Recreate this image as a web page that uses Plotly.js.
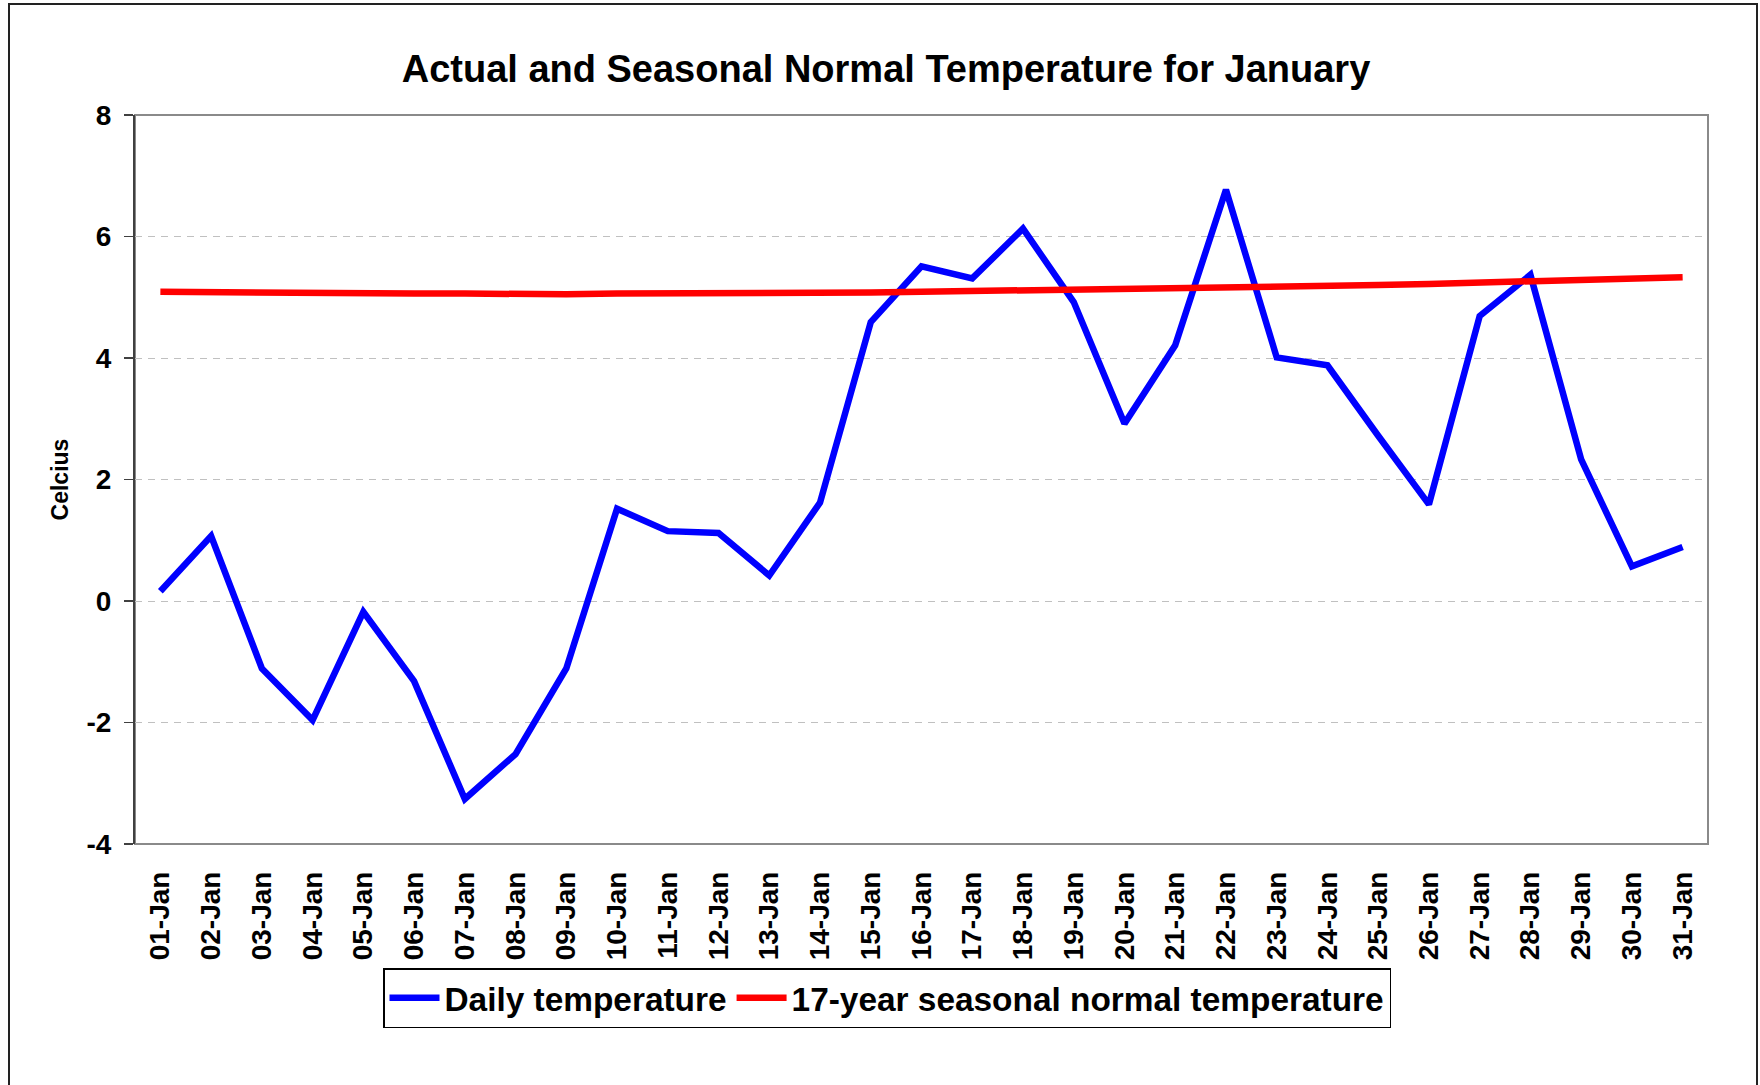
<!DOCTYPE html>
<html>
<head>
<meta charset="utf-8">
<script src="https://cdn.plot.ly/plotly-3.0.1.min.js"></script>
<style>
  html, body { margin: 0; padding: 0; background: #ffffff; }
  #chart { width: 1760px; height: 1085px; }
</style>
</head>
<body>
<div id="chart"></div>
<script>
// ---- Data ----
const days = ["01-Jan","02-Jan","03-Jan","04-Jan","05-Jan","06-Jan","07-Jan","08-Jan","09-Jan","10-Jan",
              "11-Jan","12-Jan","13-Jan","14-Jan","15-Jan","16-Jan","17-Jan","18-Jan","19-Jan","20-Jan",
              "21-Jan","22-Jan","23-Jan","24-Jan","25-Jan","26-Jan","27-Jan","28-Jan","29-Jan","30-Jan","31-Jan"];

const dailyTemp = [0.16, 1.07, -1.11, -1.96, -0.18, -1.32, -3.26, -2.52, -1.11, 1.52,
                   1.15, 1.12, 0.42, 1.62, 4.59, 5.51, 5.31, 6.13, 4.92, 2.92,
                   4.21, 6.77, 4.01, 3.88, 2.72, 1.59, 4.69, 5.37, 2.33, 0.57, 0.89];

const normalTemp = [5.09, 5.08, 5.07, 5.07, 5.06, 5.06, 5.06, 5.05, 5.05, 5.06,
                    5.06, 5.06, 5.07, 5.07, 5.08, 5.09, 5.10, 5.11, 5.12, 5.13,
                    5.15, 5.16, 5.18, 5.19, 5.20, 5.22, 5.24, 5.26, 5.29, 5.31, 5.33];

const yTicks = [-4, -2, 0, 2, 4, 6, 8];

const seriesNames = ["Daily temperature", "17-year seasonal normal temperature"];
const titleText = "Actual and Seasonal Normal Temperature for January";
const yTitleText = "Celcius";

// ---- Layout geometry ----
const W = 1760, H = 1085;
const mL = 135, mR = 52, mT = 115, mB = 241;
const plotW = W - mL - mR, plotH = H - mT - mB;
const yMin = -4, yMax = 8;
const FONT = "Liberation Sans, Arial, Helvetica, sans-serif";

function px2paperX(px) { return (px - mL) / plotW; }
function px2paperY(py) { return (H - mB - py) / plotH; }

const traces = [
  {
    type: "scatter", mode: "lines", name: seriesNames[0],
    x: days, y: dailyTemp,
    line: { color: "#0000ff", width: 6.5 },
    hoverinfo: "x+y"
  },
  {
    type: "scatter", mode: "lines", name: seriesNames[1],
    x: days, y: normalTemp,
    line: { color: "#ff0000", width: 6.5 },
    hoverinfo: "x+y"
  }
];

const layout = {
  width: W, height: H,
  paper_bgcolor: "#ffffff", plot_bgcolor: "#ffffff",
  margin: { l: mL, r: mR, t: mT, b: mB, autoexpand: false },
  font: { family: FONT, color: "#000000", weight: "bold" },
  showlegend: true,
  title: {
    text: titleText,
    font: { family: FONT, size: 38, weight: "bold", color: "#000000" },
    xref: "container", x: 886 / W, xanchor: "center",
    yref: "container", y: 1 - 69 / H, yanchor: "middle"
  },
  xaxis: {
    type: "category",
    categoryorder: "array", categoryarray: days,
    range: [-0.5, days.length - 0.5],
    showline: false, showgrid: false, zeroline: false,
    ticks: "", tickangle: -90,
    ticklabelstandoff: 21,
    tickfont: { family: FONT, size: 28, weight: "bold", color: "#000000" },
    fixedrange: true
  },
  xaxis2: {
    overlaying: "x", anchor: "free",
    position: (0 - yMin) / (yMax - yMin),
    type: "linear",
    range: [-0.5, days.length - 0.5],
    tick0: -0.5, dtick: 1,
    showline: true, linecolor: "#404040", linewidth: 2,
    ticks: "outside", ticklen: 9, tickwidth: 1.5, tickcolor: "#404040",
    showticklabels: false, showgrid: false, zeroline: false,
    layer: "below traces",
    fixedrange: true
  },
  yaxis: {
    range: [yMin, yMax],
    tickvals: yTicks,
    ticktext: yTicks.map(String),
    showline: true, linecolor: "#404040", linewidth: 2,
    ticks: "outside", ticklen: 9, tickwidth: 1.5, tickcolor: "#404040",
    ticklabelstandoff: 7,
    tickfont: { family: FONT, size: 28, weight: "bold", color: "#000000" },
    showgrid: true, gridcolor: "#c0c0c0", gridwidth: 1, griddash: "7px,6px",
    zeroline: false,
    title: {
      text: yTitleText,
      font: { family: FONT, size: 23, weight: "bold", color: "#000000" },
      standoff: 11
    },
    fixedrange: true
  },
  legend: {
    orientation: "h",
    xref: "container", x: 887 / W, xanchor: "center",
    yref: "container", y: 1 - 968 / H, yanchor: "top",
    bgcolor: "#ffffff", bordercolor: "#000000", borderwidth: 1.5,
    font: { family: FONT, size: 33.4, weight: "bold", color: "#000000" },
    itemwidth: 50,
    tracegroupgap: 0
  },
  shapes: [
    // plot-area border (gray)
    { type: "rect", xref: "paper", yref: "paper", x0: 0, x1: 1, y0: 0, y1: 1,
      line: { color: "#8a8a8a", width: 2 }, fillcolor: "rgba(0,0,0,0)", layer: "below" },
    // outer chart frame
    { type: "rect", xref: "paper", yref: "paper",
      x0: px2paperX(9), x1: px2paperX(1757), y0: px2paperY(1100), y1: px2paperY(4),
      line: { color: "#222222", width: 2 }, fillcolor: "rgba(0,0,0,0)", layer: "below" }
  ]
};

Plotly.newPlot("chart", traces, layout, { displayModeBar: false, staticPlot: true });
</script>
</body>
</html>
